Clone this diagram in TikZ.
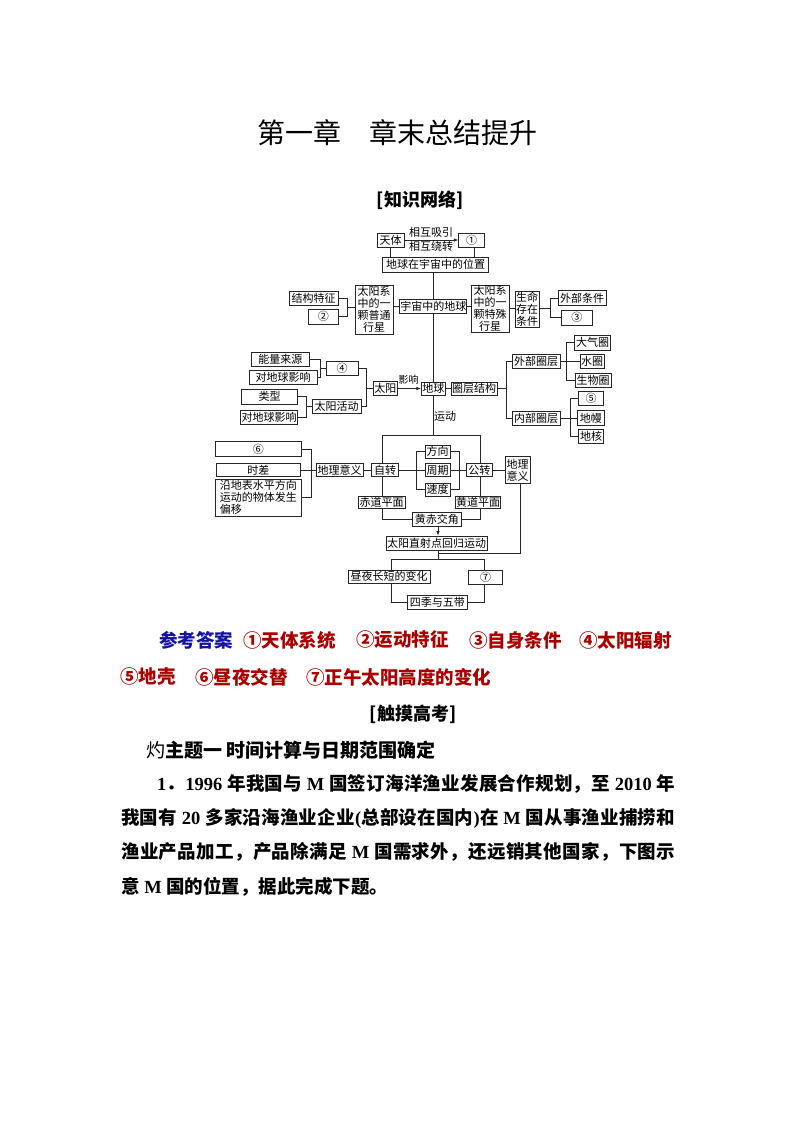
\documentclass[tikz,border=0pt]{standalone}
\usepackage{fontspec}
\newfontfamily\cjk{Noto Sans CJK SC}
\newfontfamily\latf{Liberation Serif}
\usetikzlibrary{arrows.meta,backgrounds}
\definecolor{ansblue}{RGB}{20,20,160}
\definecolor{ansred}{RGB}{170,0,0}
\newcommand\dfont{\cjk\fontsize{11}{12}\selectfont}
\newcommand\bfnt{\cjk\bfseries\fontsize{18.5}{18.5}\selectfont}
\newcommand\lt[1]{{\latf\bfseries #1}}
\newcommand\bxat[6]{\node[bx,minimum width=#4pt,minimum height=#5pt] (#1) at (#2,#3) {#6};}
\def\spendmark{\spend}
\def\spr#1{\def\sptmp{#1}\ifx\sptmp\spendmark\unskip\else #1\hskip 0pt plus 1fil\relax\expandafter\spr\fi}
\begin{document}
\begin{tikzpicture}[x=1pt,y=-1pt,
  bx/.style={draw=black!85,line width=0.8pt,fill=white,inner sep=0pt,font=\dfont,align=center},
  ln/.style={draw=black!85,line width=0.75pt},
  arr/.style={ln,-{Latex[length=4.5pt,width=3.5pt]}},
  lbl/.style={inner sep=0pt,font=\dfont},
  txt/.style={inner sep=0pt,anchor=west}]
\useasboundingbox (0,0) rectangle (794,1123);
\begin{scope}[on background layer]
\fill[white] (0,0) rectangle (794,1123);
\end{scope}

% headings
\node[inner sep=0pt,font=\cjk\fontsize{28}{28}\selectfont] (title) at (397.5,133) {第一章\quad 章末总结提升};
\node[inner sep=0pt,font=\cjk\bfseries\fontsize{18}{18}\selectfont] (zswl) at (420,200.5) {[知识网络]};

% diagram boxes
\bxat{tianti}{390.5}{240}{27}{14}{天体}
\bxat{q1}{471.5}{240}{25.5}{14}{①}
\bxat{weizhi}{435.5}{264.5}{105.5}{15}{地球在宇宙中的位置}
\bxat{jiegou}{313.7}{298}{49}{14}{结构特征}
\bxat{q2}{323.3}{316.7}{30}{14.5}{②}
\bxat{putong}{374.2}{309.8}{38.3}{48.3}{太阳系\\中的一\\颗普通\\行星}
\bxat{yuzhou}{433.3}{306.5}{67}{13.5}{宇宙中的地球}
\bxat{teshu}{490}{308.7}{38}{47.3}{太阳系\\中的一\\颗特殊\\行星}
\bxat{shengming}{527.2}{309.2}{24.3}{36.3}{生命\\存在\\条件}
\bxat{waitj}{582.2}{298}{47.7}{15.5}{外部条件}
\bxat{q3}{576.8}{317.8}{31.7}{14.3}{③}
\bxat{nengliang}{280.3}{359.3}{57.3}{13.5}{能量来源}
\bxat{yx1}{283.2}{377.5}{68.3}{13.6}{对地球影响}
\bxat{q4}{342.2}{368.3}{32.3}{14.7}{④}
\bxat{leixing}{269.7}{396.7}{56}{14.7}{类型}
\bxat{yx2}{269}{417}{57}{14}{对地球影响}
\bxat{huodong}{336.7}{406.3}{48.7}{14}{太阳活动}
\bxat{taiyang}{385.3}{388.5}{24}{14.3}{太阳}
\bxat{diqiu}{433.3}{388.5}{24}{13}{地球}
\bxat{quanceng}{474.2}{388.5}{46}{13}{圈层结构}
\bxat{waibu}{536}{361.5}{48}{13.5}{外部圈层}
\bxat{neibu}{536}{418}{48}{14}{内部圈层}
\bxat{daqi}{592.5}{342.7}{36}{14.5}{大气圈}
\bxat{shui}{592}{361.5}{24}{14.3}{水圈}
\bxat{shengwu}{593}{380.3}{36}{14}{生物圈}
\bxat{q5}{591}{398.5}{24.3}{13.5}{⑤}
\bxat{diman}{590.8}{418}{26.3}{15}{地幔}
\bxat{dihe}{591}{436.3}{25.7}{14}{地核}
\bxat{q6}{258.3}{449.2}{86.7}{15}{⑥}
\bxat{shicha}{258.3}{470}{83.3}{13}{时差}
\node[bx,align=left,minimum width=86.7pt,minimum height=36.7pt] (pianyi) at (258.3,497.7) {沿地表水平方向\\运动的物体发生\\偏移};
\bxat{dlyy1}{339.7}{470}{47.3}{13.4}{地理意义}
\bxat{zizhuan}{385}{470}{26.6}{13.4}{自转}
\bxat{fangxiang}{437.5}{451.7}{25}{13.3}{方向}
\bxat{zhouqi}{437.5}{470}{25}{13.3}{周期}
\bxat{sudu}{437.5}{489.7}{25}{12.7}{速度}
\bxat{gongzhuan}{479.3}{470}{26.7}{13.4}{公转}
\bxat{dlyy2}{517.5}{470}{25}{26.6}{地理\\意义}
\bxat{chidao}{381.7}{502.2}{46.7}{12.5}{赤道平面}
\bxat{huangdao}{478}{502.2}{45}{12.5}{黄道平面}
\bxat{huangchi}{436.8}{519.3}{48.3}{13.3}{黄赤交角}
\bxat{zhishe}{436.7}{543}{101}{14}{太阳直射点回归运动}
\bxat{zhouye}{389.2}{576.7}{81.7}{13.3}{昼夜长短的变化}
\bxat{q7}{485.5}{577}{34.4}{14}{⑦}
\bxat{siji}{437.3}{602.2}{60}{14.3}{四季与五带}

% labels
\node[lbl] (l1) at (431,232.5) {相互吸引};
\node[lbl] (l2) at (431,246) {相互绕转};
\node[lbl,font=\cjk\fontsize{10}{10}\selectfont] (l3) at (408.7,380) {影响};
\node[lbl] (l4) at (445,416.7) {运动};

% connectors
\coordinate (ftl) at (382.3,435);
\coordinate (ftr) at (480,435);
\coordinate (b1) at (347.7,307);
\coordinate (b2) at (550,308);
\coordinate (b3) at (320,368.3);
\coordinate (b4) at (306.7,406.3);
\coordinate (b5) at (366.7,388.5);
\coordinate (b6) at (506,388.5);
\coordinate (b7) at (566.7,361.5);
\coordinate (b8) at (570.7,418);
\coordinate (b9) at (311.7,470);
\coordinate (b10) at (416,470);
\coordinate (b11) at (459,470);
\coordinate (c1) at (438,553.3);
\coordinate (stem) at (438,559.3);
\coordinate (hl) at (391.7,559.3);
\coordinate (hr) at (484.3,559.3);
\begin{scope}[on background layer]
\draw[arr] (tianti.east) -- (q1.west);
\draw[ln] (tianti.south) -- (tianti.south |- weizhi.north);
\draw[ln] ([xshift=2.5pt]q1.south) -- ([xshift=2.5pt]q1.south |- weizhi.north);
\draw[ln] (weizhi.south -| yuzhou.north) -- (yuzhou.north);
\draw[ln] (yuzhou.south) -- (diqiu.north);
\draw[ln] (diqiu.south) -- (diqiu.south |- ftl);
\draw[ln] (huangchi.west) -| (ftl) -- (ftr) |- (huangchi.east);
\draw[ln] (jiegou.east) -| (b1);
\draw[ln] (q2.east) -| (b1);
\draw[ln] (b1) -- (b1 -| putong.west);
\draw[ln] (yuzhou.west -| putong.east) -- (yuzhou.west);
\draw[ln] (yuzhou.east) -- (yuzhou.east -| teshu.west);
\draw[ln] (b2 -| teshu.east) -- (b2 -| shengming.west);
\draw[ln] (waitj.west) -| (b2);
\draw[ln] (q3.west) -| (b2);
\draw[ln] (b2 -| shengming.east) -- (b2);
\draw[ln] (nengliang.east) -| (b3);
\draw[ln] (yx1.east) -| (b3);
\draw[ln] (b3) -- (q4.west);
\draw[ln] (leixing.east) -| (b4);
\draw[ln] (yx2.east) -| (b4);
\draw[ln] (b4) -- (huodong.west);
\draw[ln] (q4.east) -| (b5);
\draw[ln] (huodong.east) -| (b5);
\draw[ln] (b5) -- (taiyang.west);
\draw[arr] (taiyang.east) -- (diqiu.west);
\draw[ln] (diqiu.east) -- (quanceng.west);
\draw[ln] (waibu.west) -| (b6);
\draw[ln] (neibu.west) -| (b6);
\draw[ln] (quanceng.east) -- (b6);
\draw[ln] (daqi.west) -| (b7);
\draw[ln] (shengwu.west) -| (b7);
\draw[ln] (waibu.east) -- (shui.west);
\draw[ln] (q5.west) -| (b8);
\draw[ln] (dihe.west) -| (b8);
\draw[ln] (neibu.east) -- (diman.west);
\draw[ln] (q6.east) -| (b9);
\draw[ln] (pianyi.east) -| (b9);
\draw[ln] (shicha.east) -- (dlyy1.west);
\draw[ln] (dlyy1.east) -- (zizhuan.west);
\draw[ln] (zizhuan.east) -- (zhouqi.west);
\draw[ln] (fangxiang.west) -| (b10);
\draw[ln] (sudu.west) -| (b10);
\draw[ln] (fangxiang.east) -| (b11);
\draw[ln] (sudu.east) -| (b11);
\draw[ln] (zhouqi.east) -- (gongzhuan.west);
\draw[ln] (gongzhuan.east) -- (dlyy2.west);
\draw[arr] (huangchi.south -| stem) -- (zhishe.north -| stem);
\draw[ln] (zhishe.south -| stem) -- (stem);
\draw[ln] ([xshift=2.5pt]dlyy2.south) |- (c1);
\draw[ln] (hl) -- (hr);
\draw[ln] (hl) -- (hl |- zhouye.north);
\draw[ln] (hr) -- (hr |- q7.north);
\draw[ln] (hl |- zhouye.south) |- (siji.west);
\draw[ln] (hr |- q7.south) |- (siji.east);
\end{scope}

% answers
\node[txt,font=\bfnt,text=ansblue] (ans) at (159,640) {参考答案};
\node[txt,font=\bfnt,text=ansred] (a1) at (243,640) {①天体系统};
\node[txt,font=\bfnt,text=ansred] (a2) at (356,640) {②运动特征};
\node[txt,font=\bfnt,text=ansred] (a3) at (469,640) {③自身条件};
\node[txt,font=\bfnt,text=ansred] (a4) at (579,640) {④太阳辐射};
\node[txt,font=\bfnt,text=ansred] (a5) at (120,677) {⑤地壳};
\node[txt,font=\bfnt,text=ansred] (a6) at (195,677) {⑥昼夜交替};
\node[txt,font=\bfnt,text=ansred] (a7) at (306,677) {⑦正午太阳高度的变化};

\node[inner sep=0pt,font=\cjk\bfseries\fontsize{18}{18}\selectfont] (cmgk) at (413,714) {[触摸高考]};
\node[txt,font=\cjk\fontsize{19}{19}\selectfont] (topic) at (146,750) {灼{\bfseries 主题一 时间计算与日期范围确定}};

\node[txt,font=\bfnt] (p1) at (157,784) {\makebox[518pt][s]{\spr{\lt{1}}．{\lt{1996~}}年我国与{\lt{~M~}}国签订海洋渔业发展合作规划，至{\lt{~2010~}}年\spend}};
\node[txt,font=\bfnt] (p2) at (121,818) {\makebox[554pt][s]{\spr 我国有{\lt{~20~}}多家沿海渔业企业{\lt{(}}总部设在国内{\lt{)}}在{\lt{~M~}}国从事渔业捕捞和\spend}};
\node[txt,font=\bfnt] (p3) at (121,852) {\makebox[554pt][s]{\spr 渔业产品加工，产品除满足{\lt{~M~}}国需求外，还远销其他国家，下图示\spend}};
\node[txt,font=\bfnt] (p4) at (121,887) {意\lt{~M~}国的位置，据此完成下题。};
\end{tikzpicture}
\end{document}
